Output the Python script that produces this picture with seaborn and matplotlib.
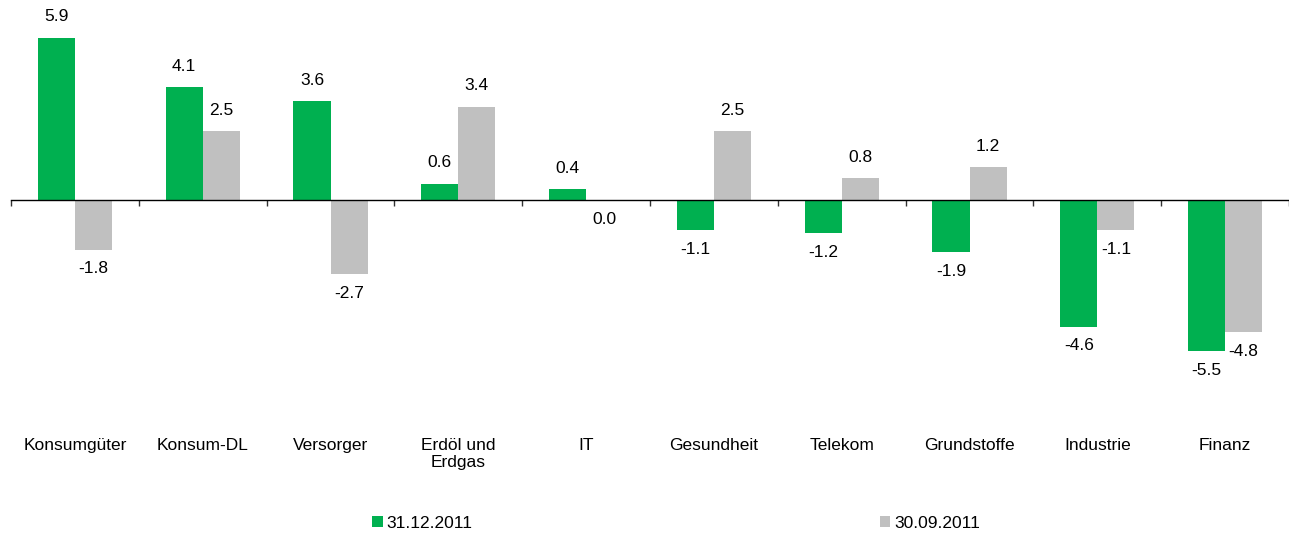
import pandas as pd
import numpy as np
import matplotlib.pyplot as plt
import seaborn as sns

# Sector performance values
categories = ['Konsumgüter', 'Konsum-DL', 'Versorger', 'Erdöl und\nErdgas', 'IT',
              'Gesundheit', 'Telekom', 'Grundstoffe', 'Industrie', 'Finanz']
series_names = ['31.12.2011', '30.09.2011']
values_dec = [5.9, 4.1, 3.6, 0.6, 0.4, -1.1, -1.2, -1.9, -4.6, -5.5]
values_sep = [-1.8, 2.5, -2.7, 3.4, 0.0, 2.5, 0.8, 1.2, -1.1, -4.8]
colors = ['#00B050', '#C0C0C0']

df = pd.DataFrame({
    'Sektor': categories * 2,
    'Datum': [series_names[0]] * len(categories) + [series_names[1]] * len(categories),
    'Wert': values_dec + values_sep,
})

sns.set_style('white')
plt.rcParams['font.family'] = ['Liberation Sans', 'DejaVu Sans']
plt.rcParams['text.color'] = 'black'

fig = plt.figure(figsize=(12.89, 5.34), dpi=100)
ax = fig.add_axes([11 / 1289, 1 - 400 / 534, 1278 / 1289, 380 / 534])

sns.barplot(data=df, x='Sektor', y='Wert', hue='Datum', palette=colors,
            width=0.58, gap=0, saturation=1, linewidth=0, ax=ax, legend=True)

ax.set_xlim(-0.5, 9.5)
ax.set_ylim(-(400 - 200) / 27.5, (200 - 20) / 27.5)

# value labels
for cont in ax.containers:
    for bar in cont:
        v = bar.get_height()
        x = bar.get_x() + bar.get_width() / 2
        off = 15 if v > 0 else -14
        ax.annotate(f'{v:.1f}', (x, v), xytext=(0, off), textcoords='offset points',
                    ha='center', va='center', fontsize=12.5, color='black')

# axis styling
for s in ['top', 'right', 'left']:
    ax.spines[s].set_visible(False)
ax.spines['bottom'].set_position(('data', 0))
ax.spines['bottom'].set_color('black')
ax.spines['bottom'].set_linewidth(1.0)
ax.set_yticks([])
ax.set_xticks(np.arange(len(categories)))
ax.set_xticklabels([])
ax.tick_params(axis='x', which='major', length=0)
ax.set_xticks(np.arange(len(categories) + 1) - 0.5, minor=True)
ax.tick_params(axis='x', which='minor', bottom=True, length=4, width=1,
               direction='out', color='#333333')
ax.set_xlabel('')
ax.set_ylabel('')

# category labels well below the axis
for i, c in enumerate(categories):
    ax.text(i, -0.1, c, transform=ax.get_xaxis_transform(), ha='center', va='top',
            fontsize=12.5, linespacing=1.2, color='black')

# legend at the bottom
ax.get_legend().remove()
handles, labels = ax.get_legend_handles_labels()
fig.legend(handles[:2], labels[:2], loc='center', bbox_to_anchor=(676 / 1289, 1 - 523 / 534),
           ncol=2, frameon=False, fontsize=12.5, handlelength=0.6, handleheight=0.6,
           handletextpad=0.2, columnspacing=23.5)

fig.savefig('out.png', dpi=100)
